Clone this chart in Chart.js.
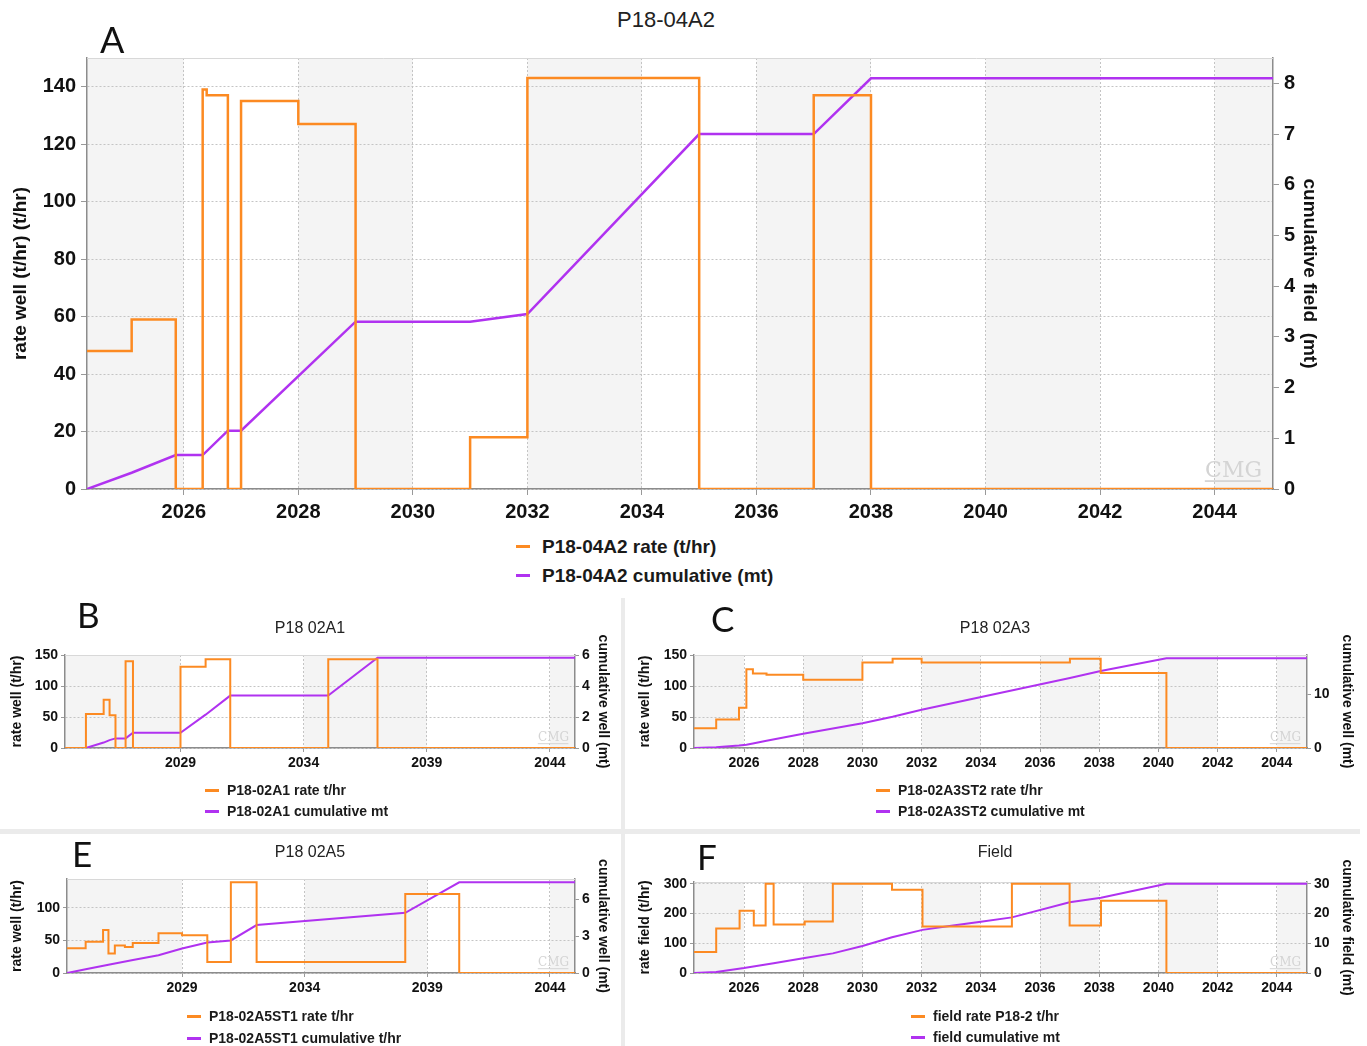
<!DOCTYPE html>
<html>
<head>
<meta charset="utf-8">
<script src="https://cdn.jsdelivr.net/npm/chart.js@4.4.1/dist/chart.umd.min.js"></script>
<style>
body { margin: 0; background: #fff; width: 1367px; height: 1046px; position: relative; overflow: hidden;
       font-family: 'Liberation Sans', Arial, sans-serif; }
canvas { position: absolute; }
.title { position: absolute; transform: translate(-50%, -50%); white-space: nowrap; color: #222; line-height: 1; }
.letter { position: absolute; font-family: Lato, 'Open Sans', sans-serif; color: #111; line-height: 1; }
.leg { position: absolute; font-weight: bold; color: #1a1a1a; white-space: nowrap; display: flex; align-items: center; line-height: 1; }
.leg span.m { display: inline-block; height: 3px; }
.sep { position: absolute; background: #ebebeb; }
</style>
</head>
<body>
<div class="sep" style="left:0;top:829px;width:1360px;height:5px"></div>
<div class="sep" style="left:621px;top:598px;width:4px;height:448px"></div>
<script>
const FONT = "'Liberation Sans', Arial, sans-serif";
const ORANGE = '#fc8a22';
const PURPLE = '#b032f0';

// shared time axis
const xStart = 2024.31, xEnd = 2045.02;
const xTicksTwo = [2026, 2028, 2030, 2032, 2034, 2036, 2038, 2040, 2042, 2044];
const xTicksFive = [2029, 2034, 2039, 2044];

// A: P18-04A2
const aRateYears = [2024.31, 2025.09, 2025.86, 2026.33, 2026.40, 2026.77, 2027.0, 2028.0, 2029.0, 2031.0, 2032.0, 2035.0, 2037.0, 2038.0, 2045.02];
const aRate      = [48, 59, 0, 139, 137, 0, 135, 127, 0, 18, 143, 0, 137, 0, 0];
const aCumYears  = [2024.31, 2025.09, 2025.86, 2026.33, 2026.77, 2027.0, 2029.0, 2031.0, 2032.0, 2035.0, 2037.0, 2038.0, 2045.02];
const aCum       = [0, 0.32, 0.67, 0.67, 1.15, 1.15, 3.30, 3.30, 3.45, 7.0, 7.0, 8.1, 8.1];
const aLeftTicks = [0, 20, 40, 60, 80, 100, 120, 140];
const aRightTicks = [0, 1, 2, 3, 4, 5, 6, 7, 8];

// B: P18 02A1
const bRateYears = [2024.31, 2025.16, 2025.88, 2026.12, 2026.36, 2026.77, 2027.07, 2029.0, 2030.02, 2031.02, 2035.0, 2037.0, 2045.02];
const bRate      = [0, 55, 78, 53, 0, 140, 0, 131, 143, 0, 143, 0, 0];
const bCumYears  = [2024.31, 2025.16, 2025.88, 2026.12, 2026.36, 2026.77, 2027.07, 2029.0, 2030.02, 2031.02, 2035.0, 2037.0, 2045.02];
const bCum       = [0, 0, 0.35, 0.51, 0.62, 0.62, 0.98, 0.98, 2.15, 3.38, 3.38, 5.82, 5.82];
const bLeftTicks = [0, 50, 100, 150];
const bRightTicks = [0, 2, 4, 6];

// C: P18 02A3
const cRateYears = [2024.31, 2025.06, 2025.83, 2026.08, 2026.3, 2026.76, 2028.0, 2030.0, 2031.02, 2032.0, 2037.01, 2038.05, 2040.27, 2045.02];
const cRate      = [32, 46, 65, 127, 120, 118, 110, 138, 144, 138, 144, 121, 0, 0];
const cCumYears  = [2024.31, 2025.06, 2025.83, 2026.08, 2026.3, 2026.76, 2028.0, 2030.0, 2031.02, 2032.0, 2037.01, 2038.05, 2040.27, 2045.02];
const cCum       = [0, 0.15, 0.45, 0.6, 0.85, 1.35, 2.65, 4.65, 5.85, 7.15, 13.1, 14.4, 16.8, 16.8];
const cLeftTicks = [0, 50, 100, 150];
const cRightTicks = [0, 10];

// E: P18 02A5
const eRateYears = [2024.31, 2025.07, 2025.78, 2026.0, 2026.26, 2026.67, 2026.99, 2028.04, 2029.0, 2030.03, 2030.99, 2032.04, 2038.1, 2040.3, 2045.02];
const eRate      = [38, 48, 66, 30, 42, 40, 46, 61, 58, 17, 139, 17, 121, 0, 0];
const eCumYears  = [2024.31, 2025.07, 2026.0, 2027.0, 2028.04, 2029.0, 2030.03, 2030.99, 2032.04, 2038.1, 2040.3, 2045.02];
const eCum       = [0, 0.3, 0.67, 1.05, 1.45, 1.99, 2.48, 2.65, 3.9, 4.9, 7.38, 7.38];
const eLeftTicks = [0, 50, 100];
const eRightTicks = [0, 3, 6];

// F: Field
const fRateYears = [2024.31, 2025.06, 2025.85, 2026.33, 2026.73, 2027.0, 2028.05, 2029.0, 2031.0, 2032.03, 2035.05, 2037.0, 2038.06, 2040.27, 2045.02];
const fRate      = [71, 150, 209, 160, 300, 163, 173, 300, 280, 156, 300, 160, 243, 0, 0];
const fCumYears  = [2024.31, 2025.06, 2026.0, 2027.0, 2028.05, 2029.0, 2030.0, 2031.0, 2032.03, 2033.0, 2034.0, 2035.05, 2037.0, 2038.06, 2040.27, 2045.02];
const fCum       = [0, 0.35, 1.65, 3.3, 5.05, 6.6, 9.1, 12.0, 14.5, 15.9, 17.25, 18.7, 23.8, 25.3, 30.0, 30.0];
const fLeftTicks = [0, 100, 200, 300];
const fRightTicks = [0, 10, 20, 30];

const pts = (xs, ys) => xs.map((x, i) => ({ x: x, y: ys[i] }));

// alternating grey bands between x ticks
const bandsPlugin = {
  id: 'bands',
  beforeDraw(chart) {
    const { ctx, chartArea: a, scales: { x } } = chart;
    const edges = [x.min, ...x.ticks.map(t => t.value), x.max];
    ctx.save();
    ctx.fillStyle = '#fff';
    ctx.fillRect(a.left, a.top, a.width, a.height);
    ctx.fillStyle = '#f4f4f4';
    for (let i = 0; i < edges.length - 1; i += 2) {
      const x0 = x.getPixelForValue(edges[i]), x1 = x.getPixelForValue(edges[i + 1]);
      ctx.fillRect(x0, a.top, x1 - x0, a.height);
    }
    ctx.restore();
  },
  beforeDatasetsDraw(chart, args, opts) {
    const { ctx, chartArea: a } = chart;
    ctx.save();
    ctx.strokeStyle = '#d8d8d8';
    ctx.lineWidth = 1;
    ctx.beginPath();
    ctx.moveTo(a.left, a.top + 0.5);
    ctx.lineTo(a.right, a.top + 0.5);
    ctx.stroke();
    // CMG watermark
    ctx.fillStyle = '#d4d4d4';
    ctx.font = opts.size + "px 'DejaVu Serif', serif";
    ctx.textAlign = 'right';
    ctx.textBaseline = 'alphabetic';
    ctx.fillText('CMG', a.right - opts.size * 0.5, a.bottom - opts.size * 0.55);
    ctx.fillRect(a.right - opts.size * 3.1, a.bottom - opts.size * 0.4, opts.size * 2.55, Math.max(1, opts.size * 0.08));
    ctx.restore();
  }
};

function makePanel(p) {
  const cv = document.createElement('canvas');
  cv.width = p.w; cv.height = p.h;
  cv.style.left = p.left + 'px'; cv.style.top = p.top + 'px';
  document.body.appendChild(cv);
  const tickFont = { family: FONT, size: p.tickSize, weight: 'bold' };
  const titleFont = { family: FONT, size: p.titleSize, weight: 'bold' };
  new Chart(cv, {
    type: 'line',
    data: {
      datasets: [
        { label: p.rateLabel, data: pts(p.rateX, p.rateY), yAxisID: 'y', stepped: true,
          borderColor: ORANGE, borderWidth: p.lw, pointRadius: 0, fill: false },
        { label: p.cumLabel, data: pts(p.cumX, p.cumY), yAxisID: 'y1',
          borderColor: PURPLE, borderWidth: p.lw, pointRadius: 0, fill: false }
      ]
    },
    options: {
      responsive: false, animation: false, devicePixelRatio: 1,
      layout: { padding: p.pad },
      events: [],
      plugins: { legend: { display: false }, tooltip: { enabled: false }, bands: { size: p.cmg } },
      scales: {
        x: {
          type: 'linear', min: xStart, max: xEnd,
          afterBuildTicks: s => { s.ticks = p.xTicks.map(v => ({ value: v })); },
          afterFit: s => { s.height = p.xh; },
          ticks: { font: tickFont, color: '#111', padding: p.tp, maxRotation: 0, callback: v => String(v) },
          grid: { color: '#c4c4c4', tickColor: '#999', tickLength: p.tl, tickBorderDash: [] },
          border: { color: '#8c8c8c', width: 1.5, dash: [2, 2] }
        },
        y: {
          position: 'left', min: 0, max: p.leftMax,
          afterBuildTicks: s => { s.ticks = p.leftTicks.map(v => ({ value: v })); },
          afterFit: s => { s.width = p.wl; },
          ticks: { font: tickFont, color: '#111', padding: p.tp },
          grid: { color: '#c4c4c4', tickColor: '#999', tickLength: p.tl, tickBorderDash: [] },
          border: { color: '#8c8c8c', width: 1.5, dash: [2, 2] },
          title: { display: true, text: p.leftTitle, font: titleFont, color: '#111', padding: { top: 4, bottom: 0 } }
        },
        y1: {
          position: 'right', min: 0, max: p.rightMax,
          afterBuildTicks: s => { s.ticks = p.rightTicks.map(v => ({ value: v })); },
          afterFit: s => { s.width = p.wr; },
          ticks: { font: tickFont, color: '#111', padding: p.tp },
          grid: { drawOnChartArea: false, tickColor: '#999', tickLength: p.tl, tickBorderDash: [] },
          border: { color: '#8c8c8c', width: 1.5 },
          title: { display: true, text: p.rightTitle, font: titleFont, color: '#111', padding: { top: 4, bottom: 0 } }
        }
      }
    },
    plugins: [bandsPlugin]
  });

  // title, panel letter, legend as page text
  const t = document.createElement('div');
  t.className = 'title';
  t.textContent = p.title;
  t.style.left = p.titleX + 'px'; t.style.top = p.titleY + 'px'; t.style.fontSize = p.titleFs + 'px';
  document.body.appendChild(t);
  const l = document.createElement('div');
  l.className = 'letter';
  l.textContent = p.letter;
  l.style.left = p.letterX + 'px'; l.style.top = p.letterY + 'px'; l.style.fontSize = p.letterFs + 'px';
  document.body.appendChild(l);
  [[ORANGE, p.rateLabel, p.legY[0]], [PURPLE, p.cumLabel, p.legY[1]]].forEach(([c, txt, cy]) => {
    const d = document.createElement('div');
    d.className = 'leg';
    d.style.left = p.legX + 'px';
    d.style.top = (cy - p.legFs / 2) + 'px';
    d.style.height = p.legFs + 'px';
    d.style.fontSize = p.legFs + 'px';
    d.innerHTML = '<span class="m" style="width:' + p.legM + 'px;margin-right:' + p.legGap + 'px;background:' + c + '"></span>';
    d.appendChild(document.createTextNode(txt));
    document.body.appendChild(d);
  });
}

const small = { tickSize: 14, titleSize: 14, lw: 2, tp: 3, tl: 4, xh: 26, cmg: 12, titleFs: 16, letterFs: 35, legFs: 14, legM: 14, legGap: 8 };

makePanel({
  left: 0, top: 40, w: 1330, h: 489, pad: { left: 5, right: 5, top: 18, bottom: 0 },
  wl: 82, wr: 52, xh: 40, tickSize: 20, titleSize: 19, lw: 2.5, tp: 5, tl: 6, cmg: 22,
  xTicks: xTicksTwo, leftTicks: aLeftTicks, rightTicks: aRightTicks, leftMax: 150, rightMax: 8.5,
  rateX: aRateYears, rateY: aRate, cumX: aCumYears, cumY: aCum,
  rateLabel: 'P18-04A2 rate (t/hr)', cumLabel: 'P18-04A2 cumulative (mt)',
  leftTitle: 'rate well (t/hr) (t/hr)', rightTitle: 'cumulative field  (mt)',
  title: 'P18-04A2', titleX: 666, titleY: 20, titleFs: 22,
  letter: 'A', letterX: 100, letterY: 21, letterFs: 36,
  legX: 516, legY: [546, 575], legFs: 19, legM: 14, legGap: 12
});

// small panels: canvas starts 40px above the plot, 15px spare below the x labels
makePanel(Object.assign({}, small, {
  left: 0, top: 615, w: 618, h: 174, pad: { left: 5, right: 3, top: 40, bottom: 15 }, wl: 60, wr: 40,
  xTicks: xTicksFive, leftTicks: bLeftTicks, rightTicks: bRightTicks, leftMax: 150, rightMax: 6,
  rateX: bRateYears, rateY: bRate, cumX: bCumYears, cumY: bCum,
  rateLabel: 'P18-02A1 rate t/hr', cumLabel: 'P18-02A1 cumulative mt',
  leftTitle: 'rate well (t/hr)', rightTitle: 'cumulative well (mt)',
  title: 'P18 02A1', titleX: 310, titleY: 628,
  letter: 'B', letterX: 77, letterY: 597, legX: 205, legY: [790, 811]
}));

makePanel(Object.assign({}, small, {
  left: 628, top: 615, w: 735, h: 174, pad: { left: 5, right: 4, top: 40, bottom: 15 }, wl: 61, wr: 52,
  xTicks: xTicksTwo, leftTicks: cLeftTicks, rightTicks: cRightTicks, leftMax: 150, rightMax: 17.4,
  rateX: cRateYears, rateY: cRate, cumX: cCumYears, cumY: cCum,
  rateLabel: 'P18-02A3ST2 rate t/hr', cumLabel: 'P18-02A3ST2 cumulative mt',
  leftTitle: 'rate well (t/hr)', rightTitle: 'cumulative well (mt)',
  title: 'P18 02A3', titleX: 995, titleY: 628,
  letter: 'C', letterX: 711, letterY: 601, legX: 876, legY: [790, 811]
}));

makePanel(Object.assign({}, small, {
  left: 0, top: 839, w: 618, h: 175, pad: { left: 5, right: 3, top: 40, bottom: 15 }, wl: 62, wr: 40,
  xTicks: xTicksFive, leftTicks: eLeftTicks, rightTicks: eRightTicks, leftMax: 144, rightMax: 7.65,
  rateX: eRateYears, rateY: eRate, cumX: eCumYears, cumY: eCum,
  rateLabel: 'P18-02A5ST1 rate t/hr', cumLabel: 'P18-02A5ST1 cumulative t/hr',
  leftTitle: 'rate well (t/hr)', rightTitle: 'cumulative well (mt)',
  title: 'P18 02A5', titleX: 310, titleY: 852,
  letter: 'E', letterX: 72, letterY: 836, legX: 187, legY: [1016, 1038]
}));

makePanel(Object.assign({}, small, {
  left: 628, top: 842, w: 735, h: 172, pad: { left: 5, right: 4, top: 40, bottom: 15 }, wl: 61, wr: 52,
  xTicks: xTicksTwo, leftTicks: fLeftTicks, rightTicks: fRightTicks, leftMax: 306, rightMax: 30.6,
  rateX: fRateYears, rateY: fRate, cumX: fCumYears, cumY: fCum,
  rateLabel: 'field rate P18-2 t/hr', cumLabel: 'field cumulative mt',
  leftTitle: 'rate field (t/hr)', rightTitle: 'cumulative field (mt)',
  title: 'Field', titleX: 995, titleY: 852,
  letter: 'F', letterX: 697, letterY: 839, legX: 911, legY: [1016, 1037]
}));
</script>
</body>
</html>
